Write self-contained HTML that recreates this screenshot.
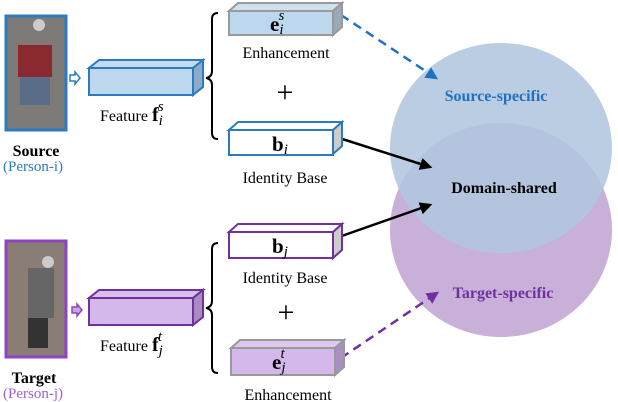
<!DOCTYPE html>
<html><head><style>html,body{margin:0;padding:0;background:#fff;}svg{display:block}svg text{font-family:"Liberation Serif",serif;}</style></head><body>
<svg width="618" height="402" viewBox="0 0 618 402" xmlns="http://www.w3.org/2000/svg">
<defs>
<marker id="ab" viewBox="0 0 10 10" refX="8" refY="5" markerWidth="5" markerHeight="5" orient="auto"><path d="M0,0L10,5L0,10z" fill="#1f72c0"/></marker>
<marker id="ak" viewBox="0 0 10 10" refX="8" refY="5" markerWidth="5" markerHeight="5" orient="auto"><path d="M0,0L10,5L0,10z" fill="#000"/></marker>
<marker id="ap" viewBox="0 0 10 10" refX="8" refY="5" markerWidth="5" markerHeight="5" orient="auto"><path d="M0,0L10,5L0,10z" fill="#7030a0"/></marker>
</defs>
<ellipse cx="501" cy="230" rx="111" ry="107" fill="#c8b0d9"/>
<ellipse cx="501" cy="148" rx="111" ry="105" fill="#b2c6de" opacity="0.88"/>
<text x="496" y="101" font-weight="bold" font-size="16" fill="#1f72c0" text-anchor="middle">Source-specific</text>
<text x="504" y="193" font-weight="bold" font-size="16" fill="#000" text-anchor="middle">Domain-shared</text>
<text x="503" y="298" font-weight="bold" font-size="16" fill="#7030a0" text-anchor="middle">Target-specific</text>
<line x1="341" y1="15" x2="436" y2="78" stroke="#1f72c0" stroke-width="2.5" stroke-dasharray="9,6" marker-end="url(#ab)"/>
<line x1="336" y1="137" x2="430" y2="167" stroke="#000" stroke-width="2.5" marker-end="url(#ak)"/>
<line x1="336" y1="238" x2="430" y2="205" stroke="#000" stroke-width="2.5" marker-end="url(#ak)"/>
<line x1="341" y1="358" x2="437" y2="293" stroke="#7030a0" stroke-width="2.5" stroke-dasharray="9,6" marker-end="url(#ap)"/>
<rect x="6" y="16" width="60" height="114" fill="#7d7a78" stroke="#2a7bc0" stroke-width="3"/>
<rect x="18" y="45" width="34" height="32" fill="#8a2a30"/>
<rect x="20" y="77" width="30" height="28" fill="#5a6c88"/>
<circle cx="39" cy="25" r="6" fill="#ccc"/>
<text x="36" y="156" font-weight="bold" font-size="16" text-anchor="middle">Source</text>
<text x="33" y="171" font-size="15" fill="#2a7bc0" text-anchor="middle">(Person-i)</text>
<path d="M70,75h5v-3l5,6l-5,6v-3h-5z" fill="#fff" stroke="#2a7bc0" stroke-width="1.5"/>
<rect x="6" y="241" width="60" height="116" fill="#8a7d75" stroke="#8e44c0" stroke-width="3"/>
<rect x="28" y="268" width="26" height="50" fill="#666"/>
<rect x="28" y="318" width="20" height="30" fill="#333"/>
<circle cx="48" cy="262" r="6" fill="#ccc"/>
<text x="34" y="383" font-weight="bold" font-size="16" text-anchor="middle">Target</text>
<text x="33" y="398" font-size="15" fill="#a060d0" text-anchor="middle">(Person-j)</text>
<path d="M72,307h5v-3l5,6l-5,6v-3h-5z" fill="#c8a8e0" stroke="#8e44c0" stroke-width="1.5"/>
<g stroke-width="2">
<path d="M89,68l10,-8h104l-10,8z" fill="#c5dbf0" stroke="#2a7bc0"/>
<path d="M193,68l10,-8v27l-10,8z" fill="#8eaac8" stroke="#2a7bc0"/>
<rect x="89" y="68" width="104" height="27" fill="#bdd7ee" stroke="#2a7bc0"/>
<path d="M229,11l9,-8h104l-9,8z" fill="#cfe0f0" stroke="#999"/>
<path d="M333,11l9,-8v24l-9,8z" fill="#9aa8b8" stroke="#999"/>
<rect x="229" y="11" width="104" height="24" fill="#bdd7ee" stroke="#999"/>
<path d="M229,130l9,-8h104l-9,8z" fill="#fff" stroke="#2a7bc0"/>
<path d="M333,130l9,-8v24l-9,8z" fill="#ccc" stroke="#2a7bc0"/>
<rect x="229" y="130" width="104" height="25" fill="#fff" stroke="#2a7bc0"/>
<path d="M89,298l10,-8h104l-10,8z" fill="#d8c0ea" stroke="#7030a0"/>
<path d="M193,298l10,-8v27l-10,8z" fill="#a88cc0" stroke="#7030a0"/>
<rect x="89" y="298" width="104" height="27" fill="#d4b8ea" stroke="#7030a0"/>
<path d="M229,232l9,-8h104l-9,8z" fill="#fff" stroke="#7030a0"/>
<path d="M333,232l9,-8v26l-9,8z" fill="#ccc" stroke="#7030a0"/>
<rect x="229" y="232" width="104" height="26" fill="#fff" stroke="#7030a0"/>
<path d="M231,348l9,-8h104l-9,8z" fill="#ddc8ee" stroke="#999"/>
<path d="M335,348l9,-8v27l-9,8z" fill="#a890c0" stroke="#999"/>
<rect x="231" y="348" width="104" height="27" fill="#d4b8ea" stroke="#999"/>
</g>
<path d="M218,13q-6,0 -6,6v52q0,6 -6,7q6,1 6,7v48q0,6 6,6" fill="none" stroke="#000" stroke-width="2"/>
<path d="M218,243q-6,0 -6,6v52q0,6 -6,7q6,1 6,7v52q0,6 6,6" fill="none" stroke="#000" stroke-width="2"/>
<text x="100" y="121" font-size="16">Feature <tspan font-weight="bold" font-size="20">f</tspan><tspan font-style="italic" font-size="15" dy="4">i</tspan><tspan font-style="italic" font-size="15" dx="-5" dy="-14">s</tspan></text>
<text x="100" y="351" font-size="16">Feature <tspan font-weight="bold" font-size="20">f</tspan><tspan font-style="italic" font-size="15" dy="4">j</tspan><tspan font-style="italic" font-size="15" dx="-5" dy="-14">t</tspan></text>
<text x="270" y="31" font-size="21"><tspan font-weight="bold">e</tspan><tspan font-style="italic" font-size="15" dy="3">i</tspan><tspan font-style="italic" font-size="15" dx="-5" dy="-14">s</tspan></text>
<text x="272" y="151" font-size="21"><tspan font-weight="bold">b</tspan><tspan font-style="italic" font-size="15" dy="3">i</tspan></text>
<text x="272" y="253" font-size="21"><tspan font-weight="bold">b</tspan><tspan font-style="italic" font-size="15" dy="3">j</tspan></text>
<text x="272" y="369" font-size="21"><tspan font-weight="bold">e</tspan><tspan font-style="italic" font-size="15" dy="3">j</tspan><tspan font-style="italic" font-size="15" dx="-5" dy="-14">t</tspan></text>
<g font-size="16">
<text x="286" y="58" text-anchor="middle">Enhancement</text>
<text x="285" y="183" text-anchor="middle">Identity Base</text>
<text x="285" y="283" text-anchor="middle">Identity Base</text>
<text x="288" y="400" text-anchor="middle">Enhancement</text>
<text x="285" y="102" font-size="30" text-anchor="middle">+</text>
<text x="286" y="322" font-size="30" text-anchor="middle">+</text>
</g>
</svg>
</body></html>
